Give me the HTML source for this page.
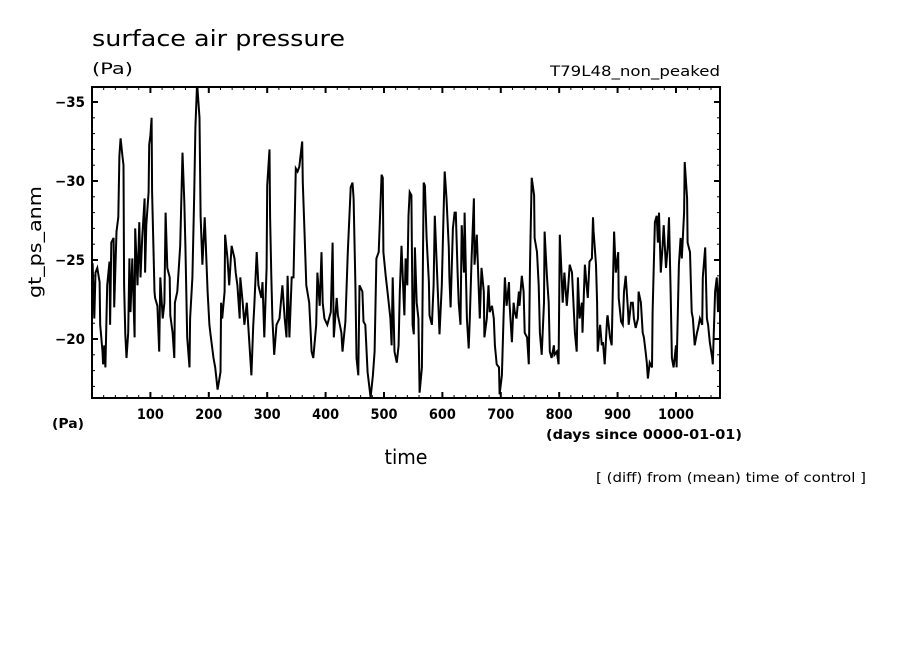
<!DOCTYPE html>
<html><head><meta charset="utf-8"><style>
html,body{margin:0;padding:0;background:#fff;}
svg{display:block;font-family:"DejaVu Sans","Liberation Sans",sans-serif;}
</style></head><body>
<svg id="chart" width="904" height="654" viewBox="0 0 904 654" xmlns="http://www.w3.org/2000/svg">
<rect width="904" height="654" fill="#fff"/>
<text x="92" y="46" font-size="22" textLength="253" lengthAdjust="spacingAndGlyphs">surface air pressure</text>
<text x="92" y="74" font-size="16" textLength="41" lengthAdjust="spacingAndGlyphs">(Pa)</text>
<text x="720" y="76" font-size="14" text-anchor="end" textLength="170" lengthAdjust="spacingAndGlyphs">T79L48_non_peaked</text>
<text x="52" y="428" font-size="13" font-weight="bold" textLength="32" lengthAdjust="spacingAndGlyphs">(Pa)</text>
<text x="742" y="439" font-size="13" font-weight="bold" text-anchor="end" textLength="196" lengthAdjust="spacingAndGlyphs">(days since 0000-01-01)</text>
<text x="406" y="464" font-size="20" text-anchor="middle" textLength="43" lengthAdjust="spacingAndGlyphs">time</text>
<text x="866" y="482" font-size="13" text-anchor="end" textLength="270" lengthAdjust="spacingAndGlyphs">[ (diff) from (mean) time of control ]</text>
<text x="0" y="0" font-size="18" text-anchor="middle" textLength="112" lengthAdjust="spacingAndGlyphs" transform="translate(41,242) rotate(-90)">gt_ps_anm</text>
<g id="plot"></g>
</svg>
<script>
const days = [1,4,6,9,13,14,18,19,21,23,26,30,31,33,37,38,42,45,47,49,52,54,55,57,59,62,64,66,69,73,74,78,81,83,86,90,91,93,97,98,100,102,103,107,108,112,115,117,121,124,126,129,133,134,138,141,142,146,151,155,158,160,163,167,168,172,175,177,180,184,186,189,193,194,198,201,203,208,211,215,220,221,223,227,228,232,235,239,244,246,249,253,254,258,261,265,270,273,276,278,282,285,290,292,295,299,300,304,305,307,309,312,316,321,326,330,333,335,338,342,345,349,352,355,360,361,364,367,372,376,379,384,386,390,393,395,398,403,409,412,414,419,421,427,429,434,438,443,446,448,451,453,456,458,463,465,468,472,477,481,484,487,491,496,498,499,503,506,511,513,515,518,522,525,527,530,534,535,537,540,542,544,547,549,551,553,556,559,561,565,568,570,573,577,578,582,585,587,590,594,595,599,602,604,607,611,612,614,618,621,623,626,628,631,633,637,638,642,645,647,650,654,655,659,662,664,667,671,672,676,679,681,685,688,690,693,697,698,702,705,707,710,714,715,719,722,724,727,731,732,736,739,741,745,748,750,753,757,758,762,765,767,770,774,775,779,782,784,787,791,792,796,799,801,804,806,809,813,815,818,822,823,827,830,832,835,839,840,844,847,849,852,856,858,859,863,865,866,870,873,875,878,882,883,887,890,892,894,897,901,902,906,909,911,914,918,919,923,926,928,931,935,936,940,943,945,948,950,952,955,959,960,964,967,969,971,974,977,979,983,986,988,991,993,996,1000,1001,1005,1008,1010,1014,1015,1019,1020,1024,1027,1029,1032,1036,1038,1041,1045,1046,1050,1053,1055,1058,1062,1063,1067,1070,1072,1075];
const pressure = [-24.8,-21.3,-24.2,-24.5,-23.6,-20.9,-19.2,-18.4,-19.6,-18.2,-23.4,-24.9,-20.9,-26.1,-26.4,-22.0,-26.8,-27.7,-31.6,-32.7,-31.6,-31.0,-23.4,-20.3,-18.8,-20.4,-25.1,-21.7,-25.1,-20.1,-27.0,-23.4,-27.4,-23.9,-26.4,-28.9,-24.2,-27.2,-29.3,-32.3,-32.9,-34.0,-29.3,-23.0,-22.6,-22.1,-19.2,-23.9,-21.3,-22.3,-28.0,-24.5,-23.9,-21.5,-20.4,-18.8,-22.3,-23.0,-25.9,-31.8,-28.7,-25.9,-20.1,-18.2,-21.3,-23.9,-29.1,-33.4,-36.2,-34.0,-27.8,-24.7,-27.7,-26.8,-23.0,-20.9,-20.3,-18.8,-18.2,-16.8,-17.9,-22.3,-21.3,-23.0,-26.6,-25.1,-23.4,-25.9,-25.1,-24.2,-23.4,-21.3,-23.9,-22.3,-20.9,-22.3,-19.4,-17.7,-20.8,-22.1,-25.5,-23.4,-22.6,-23.6,-20.1,-24.5,-29.7,-32.0,-27.7,-24.0,-21.3,-19.0,-20.9,-21.3,-23.4,-21.3,-20.1,-24.0,-20.1,-23.9,-23.9,-30.8,-30.6,-30.9,-32.5,-29.9,-26.6,-23.4,-22.3,-19.2,-18.8,-20.9,-24.2,-22.1,-25.5,-22.3,-21.3,-20.9,-21.7,-26.1,-20.1,-22.6,-21.5,-20.4,-19.2,-21.1,-25.5,-29.6,-29.9,-28.9,-23.4,-18.8,-17.7,-23.4,-23.0,-21.1,-20.9,-17.9,-16.3,-17.7,-19.2,-25.1,-25.5,-30.4,-30.2,-25.5,-24.0,-23.0,-21.3,-19.6,-23.9,-19.2,-18.5,-19.6,-23.0,-25.9,-22.3,-21.5,-25.1,-23.4,-27.8,-29.3,-29.1,-20.9,-20.3,-25.8,-22.3,-21.3,-16.6,-18.2,-29.9,-29.7,-26.4,-23.6,-21.5,-20.9,-23.4,-27.8,-25.1,-21.3,-20.3,-23.4,-27.8,-30.6,-28.9,-25.8,-23.9,-22.0,-27.0,-28.0,-28.0,-24.2,-22.3,-20.9,-27.2,-24.2,-28.0,-21.3,-19.4,-21.3,-25.1,-28.9,-24.7,-26.6,-23.4,-21.3,-24.5,-23.0,-20.1,-21.3,-23.4,-21.7,-22.1,-21.3,-19.6,-18.4,-18.2,-16.5,-17.7,-21.7,-23.9,-22.1,-23.6,-22.3,-19.8,-22.3,-21.7,-21.3,-23.0,-22.1,-24.0,-23.0,-20.4,-20.1,-18.4,-24.7,-30.2,-29.1,-26.4,-25.5,-23.4,-20.4,-19.0,-22.3,-26.8,-24.0,-22.3,-19.2,-18.8,-19.6,-19.0,-19.2,-18.4,-26.6,-24.2,-22.3,-24.2,-22.1,-23.0,-24.7,-24.2,-23.4,-20.4,-19.2,-23.9,-21.3,-22.3,-20.4,-24.7,-23.4,-22.6,-24.9,-25.1,-27.7,-26.8,-24.7,-22.3,-19.2,-20.9,-19.6,-19.8,-18.4,-21.3,-21.5,-20.1,-19.6,-23.4,-26.8,-24.2,-25.5,-22.6,-21.1,-20.9,-23.0,-24.0,-21.7,-20.9,-22.3,-22.3,-21.3,-20.7,-21.3,-23.0,-22.3,-20.4,-20.1,-19.2,-18.5,-17.5,-18.5,-18.2,-21.7,-27.4,-27.8,-26.1,-28.0,-24.2,-25.8,-27.2,-24.5,-25.9,-27.7,-22.8,-18.8,-18.2,-19.6,-18.2,-24.7,-26.4,-25.1,-28.0,-31.2,-28.9,-26.1,-25.5,-21.7,-21.3,-19.6,-20.4,-20.7,-21.3,-20.9,-23.9,-25.8,-21.3,-20.9,-19.8,-18.8,-18.4,-23.0,-23.9,-21.7,-23.9];
const xTickValues = [100,200,300,400,500,600,700,800,900,1000];
const xTickLabels = ["100","200","300","400","500","600","700","800","900","1000"];
const yTickValues = [-35,-30,-25,-20];
const yTickLabels = ["\u221235","\u221230","\u221225","\u221220"];

const NS = "http://www.w3.org/2000/svg";
const L = 92, R = 720, T = 87, B = 398;
const X0 = 0, X1 = 1075.4;
function xs(d){ return L + (d - X0) / (X1 - X0) * (R - L); }
function ys(v){ return 102 + (v - (-35)) * 15.8; }
const plot = document.getElementById('plot');
function mk(tag, attrs){ const e = document.createElementNS(NS, tag); for (const k in attrs) e.setAttribute(k, attrs[k]); return e; }

const clip = mk('clipPath', {id:'pc'});
clip.appendChild(mk('rect', {x:L, y:T, width:R-L, height:B-T}));
plot.appendChild(clip);

let d = '';
for (let i = 0; i < days.length; i++) d += (i ? 'L' : 'M') + xs(days[i]).toFixed(1) + ',' + ys(pressure[i]).toFixed(1);
const line = mk('path', {d:d, fill:'none', stroke:'#000', 'stroke-width':'2', 'stroke-linejoin':'miter', 'clip-path':'url(#pc)'});


plot.appendChild(line);

const frame = mk('rect', {x:L, y:T, width:R-L, height:B-T, fill:'none', stroke:'#000', 'stroke-width':'2'});


plot.appendChild(frame);

for (let v = 20; v < X1; v += 20) {
  const major = v % 100 === 0;
  const len = major ? 6 : 3;
  const x = xs(v);
  const t1 = mk('line', {x1:x, x2:x, y1:B, y2:B-len, stroke:'#000', 'stroke-width': major ? 2 : 1});
  
  
  plot.appendChild(t1);
  const t2 = mk('line', {x1:x, x2:x, y1:T, y2:T+len, stroke:'#000', 'stroke-width': major ? 2 : 1});
  
  
  plot.appendChild(t2);
}
xTickValues.forEach((v, i) => {
  const t = mk('text', {x:xs(v), y:419, 'font-size':'14', 'font-weight':'bold', 'text-anchor':'middle', textLength: xTickLabels[i].length * 9, lengthAdjust:'spacingAndGlyphs'});
  t.textContent = xTickLabels[i];
  
  
  plot.appendChild(t);
});
for (let v = -36; v <= -17; v += 1) {
  const y = ys(v);
  if (y < T || y > B) continue;
  const major = v % 5 === 0;
  const len = major ? 6 : 3;
  const t1 = mk('line', {x1:L, x2:L+len, y1:y, y2:y, stroke:'#000', 'stroke-width': major ? 2 : 1});
  
  
  plot.appendChild(t1);
  const t2 = mk('line', {x1:R, x2:R-len, y1:y, y2:y, stroke:'#000', 'stroke-width': major ? 2 : 1});
  
  
  plot.appendChild(t2);
}
yTickValues.forEach((v, i) => {
  const t = mk('text', {x:85, y:ys(v)+5, 'font-size':'14', 'font-weight':'bold', 'text-anchor':'end', textLength:'30', lengthAdjust:'spacingAndGlyphs'});
  t.textContent = yTickLabels[i];
  
  
  plot.appendChild(t);
});
</script>
</body></html>
